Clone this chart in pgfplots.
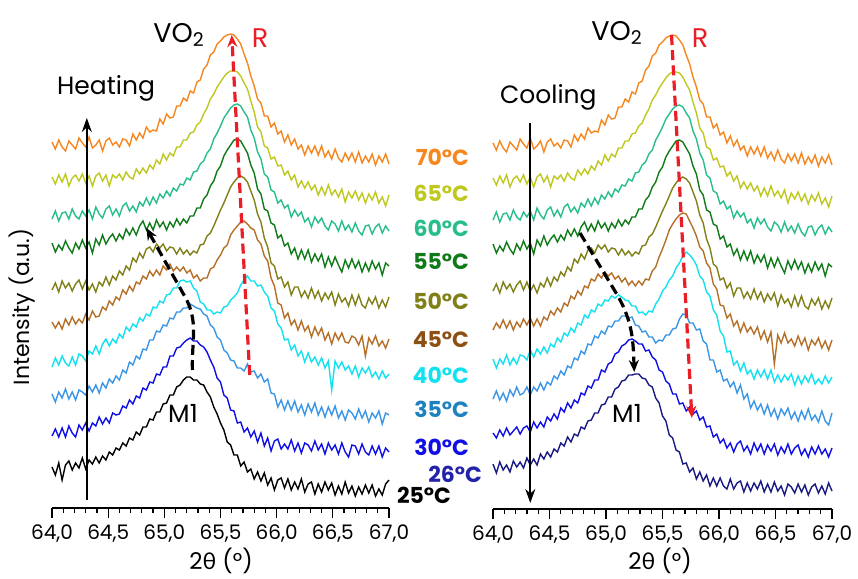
\documentclass[border=0pt]{standalone}
\usepackage{pgfplots}
\pgfplotsset{compat=1.18}
\usepackage{pgfplotstable}
\usetikzlibrary{arrows.meta}
\usepackage{fontspec}
\setmainfont{Poppins}
\newfontfamily\thetafont{Lato}

\definecolor{c70}{RGB}{246,134,30}
\definecolor{c65}{RGB}{190,200,30}
\definecolor{c60}{RGB}{40,190,140}
\definecolor{c55}{RGB}{16,122,24}
\definecolor{c50}{RGB}{128,128,24}
\definecolor{c45}{RGB}{180,112,40}
\definecolor{c45t}{RGB}{140,80,20}
\definecolor{c40}{RGB}{20,225,240}
\definecolor{c35}{RGB}{60,150,230}
\definecolor{c35t}{RGB}{30,130,190}
\definecolor{c30}{RGB}{15,15,230}
\definecolor{c26}{RGB}{25,25,130}
\definecolor{c26t}{RGB}{35,35,170}
\definecolor{cred}{RGB}{235,30,40}

% intensity (offset, pixel units) sampled every 0.03 deg from 64.00 to 67.00
\pgfplotstableread[row sep=\\]{y\\366\\359\\368\\361\\357\\367\\363\\359\\370\\365\\361\\371\\360\\363\\368\\357\\367\\370\\363\\366\\361\\369\\368\\362\\374\\368\\375\\370\\381\\376\\378\\377\\389\\384\\394\\390\\391\\402\\402\\410\\407\\417\\415\\426\\428\\439\\443\\453\\456\\464\\467\\471\\473\\474\\473\\469\\464\\454\\445\\432\\422\\409\\405\\392\\392\\381\\385\\374\\377\\366\\373\\363\\369\\359\\363\\353\\362\\355\\362\\353\\362\\351\\357\\349\\359\\350\\346\\355\\348\\355\\346\\356\\345\\352\\346\\354\\343\\352\\346\\354\\344\\}\tO
\pgfplotstableread[row sep=\\]{y\\331\\324\\333\\326\\334\\322\\330\\333\\327\\334\\325\\332\\322\\332\\335\\327\\333\\322\\333\\330\\334\\328\\336\\331\\329\\339\\334\\340\\335\\343\\339\\348\\344\\354\\348\\355\\352\\361\\361\\368\\368\\375\\376\\383\\386\\394\\400\\409\\414\\421\\426\\431\\435\\437\\437\\436\\432\\425\\419\\407\\396\\381\\376\\362\\360\\349\\351\\342\\343\\333\\337\\328\\333\\321\\327\\320\\326\\318\\323\\313\\321\\313\\323\\313\\318\\311\\319\\306\\316\\310\\317\\308\\315\\305\\314\\308\\316\\305\\311\\302\\313\\}\tY
\pgfplotstableread[row sep=\\]{y\\289\\297\\287\\295\\296\\289\\299\\292\\289\\297\\292\\298\\289\\301\\294\\290\\299\\302\\293\\299\\292\\302\\305\\297\\302\\296\\306\\302\\310\\303\\311\\305\\314\\310\\317\\312\\320\\317\\324\\323\\330\\328\\336\\337\\344\\347\\355\\359\\369\\375\\382\\390\\395\\400\\403\\404\\402\\396\\391\\378\\370\\356\\349\\334\\331\\318\\316\\305\\308\\300\\303\\291\\298\\292\\296\\286\\290\\281\\291\\285\\290\\282\\278\\287\\284\\277\\287\\278\\283\\276\\285\\277\\273\\282\\283\\274\\281\\284\\275\\282\\277\\}\tT
\pgfplotstableread[row sep=\\]{y\\265\\256\\263\\258\\267\\260\\255\\265\\259\\268\\260\\266\\255\\269\\263\\273\\264\\270\\274\\267\\274\\269\\279\\273\\280\\273\\282\\287\\278\\285\\278\\288\\281\\286\\278\\286\\281\\289\\283\\289\\285\\292\\292\\300\\300\\309\\313\\322\\327\\337\\342\\352\\358\\363\\368\\369\\367\\361\\355\\343\\335\\319\\314\\299\\297\\285\\283\\270\\273\\262\\265\\254\\260\\249\\258\\249\\258\\246\\254\\247\\254\\241\\251\\242\\251\\243\\236\\248\\240\\249\\240\\247\\236\\245\\237\\247\\239\\245\\233\\245\\242\\}\tG
\pgfplotstableread[row sep=\\]{y\\218\\225\\216\\227\\220\\225\\217\\224\\228\\219\\227\\218\\224\\216\\226\\222\\231\\223\\232\\228\\237\\233\\242\\238\\250\\246\\255\\250\\259\\261\\256\\264\\260\\264\\257\\261\\260\\254\\260\\254\\258\\253\\257\\255\\263\\264\\272\\275\\282\\290\\298\\305\\313\\321\\326\\330\\332\\330\\326\\317\\308\\294\\286\\270\\261\\245\\242\\229\\231\\221\\226\\213\\221\\221\\211\\217\\210\\220\\210\\217\\207\\215\\209\\216\\203\\214\\206\\210\\202\\213\\203\\213\\203\\200\\210\\204\\211\\200\\208\\201\\211\\}\tOl
\pgfplotstableread[row sep=\\]{y\\186\\180\\186\\179\\189\\183\\191\\184\\189\\185\\194\\188\\197\\191\\192\\201\\198\\207\\203\\211\\208\\218\\214\\222\\217\\226\\224\\232\\229\\237\\232\\238\\233\\242\\238\\244\\237\\241\\237\\241\\235\\238\\230\\233\\227\\230\\230\\239\\241\\248\\253\\260\\263\\273\\278\\282\\286\\287\\284\\280\\278\\268\\264\\252\\247\\230\\222\\205\\203\\190\\195\\183\\188\\178\\187\\177\\182\\171\\181\\173\\180\\168\\175\\164\\175\\168\\175\\166\\165\\172\\170\\163\\172\\152\\170\\164\\172\\162\\167\\160\\169\\}\tBrL
\pgfplotstableread[row sep=\\]{y\\141\\150\\143\\152\\145\\142\\151\\143\\154\\152\\147\\157\\154\\162\\154\\164\\169\\162\\169\\165\\174\\170\\181\\177\\184\\181\\190\\187\\194\\192\\201\\200\\207\\205\\213\\214\\220\\220\\227\\228\\226\\227\\220\\217\\206\\204\\198\\198\\194\\196\\195\\201\\202\\208\\211\\215\\223\\228\\232\\227\\227\\222\\223\\216\\212\\200\\197\\184\\180\\168\\169\\158\\163\\152\\157\\146\\155\\146\\151\\143\\150\\140\\147\\118\\147\\140\\146\\138\\142\\134\\142\\131\\140\\135\\141\\131\\136\\129\\137\\130\\134\\}\tCyL
\pgfplotstableread[row sep=\\]{y\\114\\106\\116\\110\\119\\109\\116\\108\\118\\116\\113\\122\\116\\123\\115\\125\\120\\129\\125\\132\\128\\138\\135\\146\\143\\152\\149\\159\\158\\168\\168\\177\\176\\183\\182\\190\\189\\196\\196\\200\\200\\204\\202\\200\\199\\194\\192\\183\\180\\171\\168\\158\\155\\148\\147\\140\\140\\137\\144\\136\\137\\130\\134\\126\\129\\115\\114\\101\\108\\98\\107\\98\\107\\96\\103\\93\\104\\96\\105\\93\\101\\91\\101\\93\\102\\90\\97\\88\\98\\95\\89\\99\\90\\97\\86\\95\\90\\97\\84\\95\\93\\}\tLbL
\pgfplotstableread[row sep=\\]{y\\72\\79\\71\\80\\71\\82\\75\\71\\83\\78\\85\\77\\85\\82\\91\\84\\90\\85\\95\\93\\94\\102\\100\\108\\104\\112\\110\\120\\118\\126\\125\\134\\133\\141\\141\\152\\152\\160\\161\\165\\168\\170\\167\\167\\163\\161\\156\\148\\141\\130\\126\\113\\110\\98\\97\\85\\86\\76\\80\\71\\77\\66\\75\\62\\70\\57\\67\\69\\59\\64\\59\\68\\57\\65\\55\\65\\63\\57\\67\\58\\64\\54\\65\\58\\63\\54\\65\\56\\51\\63\\62\\54\\64\\56\\53\\62\\54\\62\\51\\60\\56\\}\tBlL
\pgfplotstableread[row sep=\\]{y\\41\\33\\45\\28\\43\\47\\38\\45\\40\\50\\39\\48\\44\\51\\45\\52\\48\\56\\53\\60\\58\\65\\62\\70\\68\\76\\73\\81\\81\\89\\88\\96\\96\\104\\105\\113\\113\\121\\123\\128\\131\\131\\128\\128\\124\\123\\116\\111\\101\\94\\85\\78\\66\\63\\53\\53\\42\\46\\36\\39\\29\\36\\27\\35\\23\\30\\18\\28\\30\\20\\29\\18\\26\\19\\29\\16\\24\\26\\14\\24\\16\\26\\18\\25\\13\\22\\14\\26\\15\\22\\12\\21\\14\\23\\15\\23\\12\\19\\13\\24\\28\\}\tK
\pgfplotstableread[row sep=\\]{y\\179\\186\\181\\189\\181\\188\\179\\187\\182\\190\\184\\191\\183\\190\\183\\192\\189\\198\\194\\201\\197\\206\\203\\213\\210\\218\\214\\223\\221\\230\\228\\235\\231\\237\\233\\236\\230\\233\\227\\231\\224\\228\\223\\228\\224\\230\\229\\238\\242\\252\\260\\269\\279\\285\\290\\294\\296\\295\\288\\281\\273\\262\\258\\246\\241\\225\\220\\204\\203\\191\\195\\183\\188\\177\\186\\177\\182\\175\\182\\170\\178\\167\\177\\145\\174\\166\\176\\166\\170\\163\\173\\164\\171\\159\\169\\164\\171\\161\\168\\159\\169\\}\tBrR
\pgfplotstableread[row sep=\\]{y\\150\\141\\150\\145\\154\\144\\151\\145\\154\\153\\149\\159\\152\\160\\155\\162\\156\\165\\162\\171\\167\\176\\173\\181\\177\\186\\184\\194\\191\\199\\197\\205\\203\\209\\208\\213\\211\\214\\212\\209\\208\\203\\203\\196\\197\\194\\198\\197\\205\\210\\218\\222\\229\\233\\241\\246\\253\\257\\254\\250\\244\\233\\229\\217\\213\\199\\194\\178\\173\\157\\158\\144\\148\\138\\146\\135\\139\\130\\139\\132\\139\\130\\139\\127\\134\\127\\134\\129\\135\\124\\133\\125\\133\\127\\135\\125\\130\\125\\133\\126\\132\\}\tCyR
\pgfplotstableread[row sep=\\]{y\\110\\118\\109\\116\\108\\119\\113\\122\\114\\116\\122\\114\\122\\118\\126\\119\\127\\124\\133\\130\\138\\134\\143\\141\\151\\149\\158\\155\\165\\164\\173\\171\\178\\175\\183\\182\\188\\188\\193\\193\\191\\192\\184\\183\\177\\178\\172\\172\\166\\169\\168\\174\\174\\180\\181\\190\\195\\194\\186\\186\\179\\180\\168\\165\\149\\149\\137\\139\\128\\130\\122\\127\\116\\124\\110\\115\\101\\108\\99\\105\\95\\104\\93\\100\\90\\100\\94\\101\\90\\97\\88\\98\\90\\100\\89\\94\\87\\98\\88\\84\\96\\}\tLbR
\pgfplotstableread[row sep=\\]{y\\76\\71\\79\\73\\81\\74\\78\\82\\75\\81\\83\\77\\87\\81\\87\\82\\92\\88\\95\\90\\101\\97\\106\\101\\109\\106\\116\\114\\123\\121\\129\\129\\139\\137\\145\\147\\155\\157\\163\\165\\169\\170\\168\\165\\165\\158\\159\\152\\149\\139\\137\\128\\125\\115\\115\\105\\106\\98\\102\\95\\98\\89\\92\\82\\83\\72\\75\\66\\70\\61\\66\\57\\65\\68\\58\\63\\55\\66\\58\\65\\55\\64\\58\\65\\54\\62\\56\\65\\55\\61\\64\\54\\60\\52\\62\\55\\63\\55\\60\\52\\61\\}\tBlR
\pgfplotstableread[row sep=\\]{y\\45\\36\\47\\39\\44\\37\\48\\42\\47\\41\\51\\44\\50\\44\\55\\50\\57\\52\\60\\57\\66\\63\\72\\67\\75\\73\\82\\80\\88\\89\\96\\96\\104\\105\\112\\112\\120\\122\\128\\129\\134\\134\\135\\135\\131\\130\\124\\122\\111\\106\\93\\88\\74\\71\\59\\57\\45\\46\\37\\41\\30\\37\\28\\34\\23\\31\\23\\31\\23\\20\\30\\20\\26\\28\\17\\26\\18\\26\\20\\28\\17\\25\\17\\27\\18\\23\\14\\25\\22\\16\\25\\17\\24\\14\\22\\25\\16\\23\\15\\26\\18\\}\tN

\pgfplotsset{xrd/.style={
  scale only axis, height=244pt,
  xmin=64, xmax=67, ymin=0, ymax=488,
  axis x line=bottom, axis y line=none,
  x axis line style={-, line width=0.6pt},
  xtick={64,64.5,...,67}, minor x tick num=4,
  tick align=outside, major tick length=5pt, minor tick length=2.6pt,
  every tick/.style={black, line width=0.6pt},
  xticklabel style={font=\fontsize{10}{12}\selectfont,
    /pgf/number format/.cd, fixed, fixed zerofill, precision=1, use comma, assume math mode=true},
  clip=false,
  every axis plot/.append style={line width=0.7pt, mark=none},
},
table/xyd/.style={x expr=64+0.03*\coordindex, y=y}}
\tikzset{
  rdash/.style={cred, line width=1.6pt, dash pattern=on 5pt off 2.6pt, -{Stealth[length=6pt,width=5pt]}},
  kdash/.style={black, line width=1.6pt, dash pattern=on 5pt off 2.6pt, -{Stealth[length=6pt,width=5pt]}},
}

\begin{document}
\begin{tikzpicture}
\path[use as bounding box] (0,0) rectangle (429pt,-289.5pt);

% ---------------- Heating ----------------
\begin{axis}[xrd, width=168.5pt, at={(26pt,-254pt)}, anchor=south west]
\addplot[c70] table[xyd] {\tO};
\addplot[c65] table[xyd] {\tY};
\addplot[c60] table[xyd] {\tT};
\addplot[c55] table[xyd] {\tG};
\addplot[c50] table[xyd] {\tOl};
\addplot[c45] table[xyd] {\tBrL};
\addplot[c40] table[xyd] {\tCyL};
\addplot[c35] table[xyd] {\tLbL};
\addplot[c30] table[xyd] {\tBlL};
\addplot[black] table[xyd] {\tK};
\draw[black, line width=0.8pt, -{Stealth[length=7pt,width=5pt]}] (axis cs:64.31,8) -- (axis cs:64.31,390);
\draw[kdash] (axis cs:65.25,138) to[out=92,in=-60] (axis cs:65.18,212) -- (axis cs:64.84,280);
\draw[rdash] (axis cs:65.76,133) -- (axis cs:65.60,473);
\end{axis}

% ---------------- Cooling ----------------
\begin{axis}[xrd, width=169.5pt, at={(246.5pt,-254.5pt)}, anchor=south west]
\addplot[c70] table[xyd] {\tO};
\addplot[c65] table[xyd] {\tY};
\addplot[c60] table[xyd] {\tT};
\addplot[c55] table[xyd] {\tG};
\addplot[c50] table[xyd] {\tOl};
\addplot[c45] table[xyd] {\tBrR};
\addplot[c40] table[xyd] {\tCyR};
\addplot[c35] table[xyd] {\tLbR};
\addplot[c30] table[xyd] {\tBlR};
\addplot[c26] table[xyd] {\tN};
\draw[black, line width=0.8pt, -{Stealth[length=7pt,width=5pt]}] (axis cs:64.33,386) -- (axis cs:64.33,6);
\draw[kdash] (axis cs:64.77,276) -- (axis cs:65.1,214) to[out=-60,in=92] (axis cs:65.25,137);
\draw[rdash] (axis cs:65.58,474) -- (axis cs:65.76,91);
\end{axis}

% ---------------- texts (pixel coordinates) ----------------
\begin{scope}[x=0.5pt,y=-0.5pt]
\node[rotate=90, font=\fontsize{11}{13}\selectfont] at (22,307) {Intensity (a.u.)};
\node[font=\fontsize{11.5}{13}\selectfont] at (221,561) {2{\thetafont θ} (°)};
\node[font=\fontsize{11.5}{13}\selectfont] at (660,561) {2{\thetafont θ} (°)};
\node[font=\fontsize{13.5}{15}\selectfont] at (179,35) {VO\textsubscript{2}};
\node[font=\fontsize{13.5}{15}\selectfont] at (617,33) {VO\textsubscript{2}};
\node[font=\fontsize{13.5}{15}\selectfont, text=cred] at (260,38) {R};
\node[font=\fontsize{13.5}{15}\selectfont, text=cred] at (700,38) {R};
\node[anchor=west, font=\fontsize{12.5}{14}\selectfont] at (50,88) {Heating};
\node[anchor=west, font=\fontsize{12.5}{14}\selectfont] at (493,97) {Cooling};
\node[font=\fontsize{12.5}{14}\selectfont] at (183,413) {M1};
\node[font=\fontsize{12.5}{14}\selectfont] at (627,413) {M1};
\begin{scope}[every node/.style={anchor=east, font=\bfseries\fontsize{11}{13}\selectfont}]
\node[text=c70] at (476,157) {70°C};
\node[text=c65] at (476,193) {65°C};
\node[text=c60] at (476,228) {60°C};
\node[text=c55] at (476,262) {55°C};
\node[text=c50] at (476,301) {50°C};
\node[text=c45t] at (476,340) {45°C};
\node[text=c40] at (476,375) {40°C};
\node[text=c35t] at (476,409) {35°C};
\node[text=c30] at (476,447) {30°C};
\node[text=c26t] at (489,474) {26°C};
\node[text=black, anchor=west] at (390,495) {25°C};
\end{scope}
\end{scope}
\end{tikzpicture}
\end{document}
